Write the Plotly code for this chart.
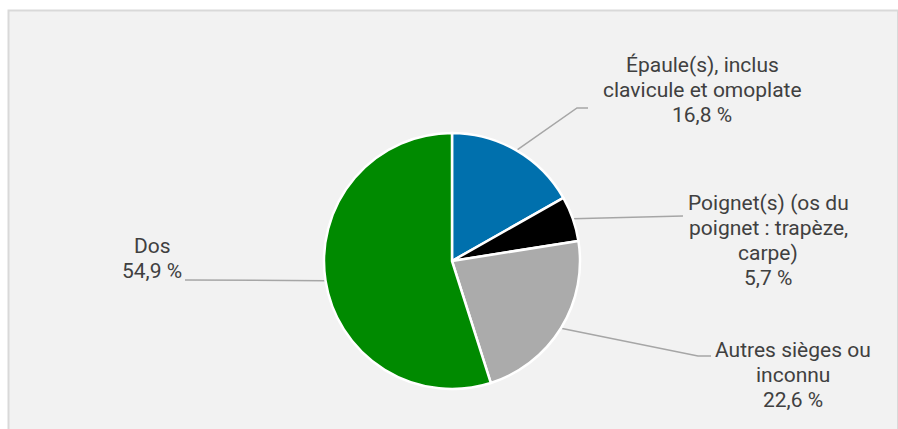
import math
import plotly.graph_objects as go

# ---- data ----
categories = [
    "Épaule(s), inclus<br>clavicule et omoplate",
    "Poignet(s) (os du<br>poignet : trapèze,<br>carpe)",
    "Autres sièges ou<br>inconnu",
    "Dos",
]
values = [16.8, 5.7, 22.6, 54.9]
value_labels = ["16,8 %", "5,7 %", "22,6 %", "54,9 %"]
colors = ["#0070ad", "#000000", "#ababab", "#008a00"]

# ---- layout constants (pixels) ----
W, H = 898, 429
CX, CY, R = 452, 261, 128
FONT_SIZE = 21
LINE_GAP = 25
# label centers (x, y of middle of text block) and leader elbow / end points
label_pos = [(702, 90), (768, 240), (793, 375), (152, 258)]
elbows = [[(577, 108), (588, 108)],
          [(683, 216)],
          [(698, 356), (711, 356)],
          [(185, 280)]]

fig = go.Figure()

fig.add_trace(go.Pie(
    labels=categories,
    values=values,
    marker=dict(colors=colors, line=dict(color="white", width=2.5)),
    sort=False,
    direction="clockwise",
    rotation=0,
    textinfo="none",
    hoverinfo="label+percent",
    showlegend=False,
    domain=dict(x=[(CX - R) / W, (CX + R) / W],
                y=[(H - CY - R) / H, (H - CY + R) / H]),
))

# invisible pixel-space axes for shapes/annotations
fig.update_layout(
    xaxis=dict(range=[0, W], visible=False, fixedrange=True),
    yaxis=dict(range=[H, 0], visible=False, fixedrange=True),
)

shapes = [dict(type="rect", xref="x", yref="y", x0=8.5, y0=10.5, x1=898, y1=440,
               fillcolor="#f2f2f2", line=dict(color="#d9d9d9", width=2), layer="below")]

total = sum(values)
cum = 0.0
annotations = []
for i, v in enumerate(values):
    mid = (cum + v / 2) / total * 2 * math.pi
    cum += v
    sx = CX + R * math.sin(mid)
    sy = CY - R * math.cos(mid)
    pts = [(sx, sy)] + elbows[i]
    path = "M {} {}".format(*pts[0]) + "".join(" L {} {}".format(x, y) for x, y in pts[1:])
    shapes.append(dict(type="path", xref="x", yref="y", path=path,
                       line=dict(color="#a6a6a6", width=1.5), layer="below"))
    lines = categories[i].split("<br>") + [value_labels[i]]
    n = len(lines)
    for k, line in enumerate(lines):
        y = label_pos[i][1] + (k - (n - 1) / 2) * LINE_GAP
        annotations.append(dict(
            x=label_pos[i][0], y=y, xref="x", yref="y",
            text=line,
            showarrow=False, align="center", xanchor="center", yanchor="middle",
            font=dict(family="Roboto", size=FONT_SIZE, color="#404040"),
        ))

fig.update_layout(
    width=W, height=H,
    margin=dict(l=0, r=0, t=0, b=0),
    paper_bgcolor="white",
    plot_bgcolor="rgba(0,0,0,0)",
    shapes=shapes,
    annotations=annotations,
)

fig.write_html(
    "out.html",
    config={"displayModeBar": False},
    post_script="document.body.style.margin='0';document.body.style.overflow='hidden';",
)
